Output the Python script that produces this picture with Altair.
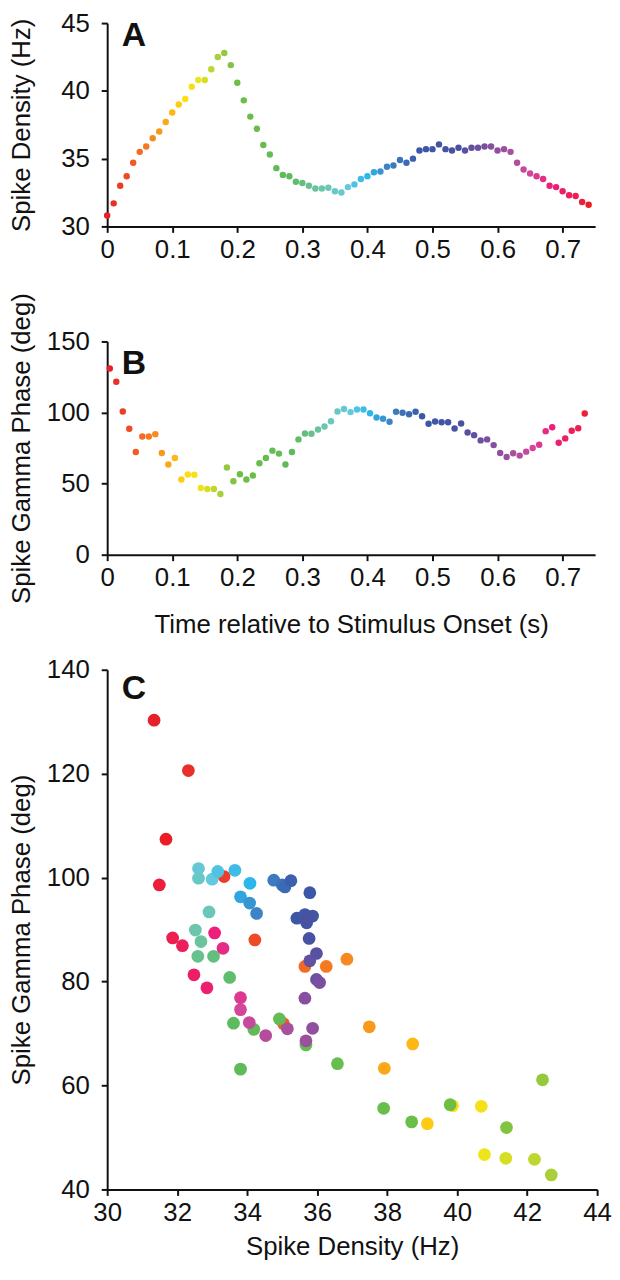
import altair as alt
import pandas as pd

# ---------------- data ----------------
time_a = [0.00, 0.01, 0.02, 0.03, 0.04, 0.05, 0.06, 0.07, 0.08, 0.09,
          0.10, 0.11, 0.12, 0.13, 0.14, 0.15, 0.16, 0.17, 0.18, 0.19,
          0.20, 0.21, 0.22, 0.23, 0.24, 0.25, 0.26, 0.27, 0.28, 0.29,
          0.30, 0.31, 0.32, 0.33, 0.34, 0.35, 0.36, 0.37, 0.38, 0.39,
          0.40, 0.41, 0.42, 0.43, 0.44, 0.45, 0.46, 0.47, 0.48, 0.49,
          0.50, 0.51, 0.52, 0.53, 0.54, 0.55, 0.56, 0.57, 0.58, 0.59,
          0.60, 0.61, 0.62, 0.63, 0.64, 0.65, 0.66, 0.67, 0.68, 0.69,
          0.70, 0.71, 0.72, 0.73, 0.74]

density_a = [30.8, 31.7, 33.0, 33.7, 34.7, 35.5, 35.9, 36.5, 37.0, 37.7,
             38.4, 39.0, 39.4, 40.3, 40.8, 40.8, 41.6, 42.5, 42.8, 41.9,
             40.6, 39.3, 38.1, 37.2, 36.0, 35.3, 34.3, 33.8, 33.7, 33.3,
             33.2, 33.0, 32.8, 32.8, 32.85, 32.6, 32.5, 32.9, 33.1, 33.5,
             33.7, 34.0, 34.05, 34.4, 34.5, 34.9, 34.7, 35.0, 35.6, 35.7,
             35.7, 36.05, 35.7, 35.6, 35.8, 35.6, 35.8, 35.8, 35.9, 35.9,
             35.6, 35.7, 35.5, 34.7, 34.2, 33.9, 33.7, 33.5, 33.0, 32.9,
             32.6, 32.3, 32.25, 31.8, 31.6]

time_b = [0.004, 0.014, 0.024, 0.034, 0.044, 0.054, 0.064, 0.074, 0.084, 0.094,
          0.104, 0.114, 0.124, 0.134, 0.144, 0.154, 0.164, 0.174, 0.184, 0.194,
          0.204, 0.214, 0.224, 0.234, 0.244, 0.254, 0.264, 0.274, 0.284, 0.294,
          0.304, 0.314, 0.324, 0.334, 0.344, 0.354, 0.364, 0.374, 0.384, 0.394,
          0.404, 0.414, 0.424, 0.434, 0.444, 0.454, 0.464, 0.474, 0.484, 0.494,
          0.504, 0.514, 0.524, 0.534, 0.544, 0.554, 0.564, 0.574, 0.584, 0.594,
          0.604, 0.614, 0.624, 0.634, 0.644, 0.654, 0.664, 0.674, 0.684, 0.694,
          0.704, 0.714, 0.724, 0.734]

phase_b = [131.0, 121.7, 100.7, 88.6, 72.2, 83.2, 83.2, 84.8, 71.5, 63.4,
           68.0, 52.9, 56.4, 56.2, 46.9, 46.2, 46.2, 42.7, 61.3, 51.7,
           56.6, 52.9, 55.7, 64.3, 68.0, 73.2, 71.1, 63.4, 72.2, 81.1,
           85.3, 85.1, 88.1, 90.2, 93.9, 100.7, 102.5, 100.3, 102.1, 102.1,
           99.5, 96.5, 95.6, 93.5, 100.5, 99.8, 98.8, 100.5, 97.4, 92.1,
           93.7, 93.2, 93.2, 88.8, 92.3, 86.0, 84.1, 80.4, 81.1, 77.1,
           71.5, 68.8, 71.3, 69.7, 72.5, 75.0, 77.4, 86.9, 89.7, 78.8,
           81.8, 87.2, 89.0, 99.3]

time_c = time_a

density_c = [31.34, 32.32, 33.34, 34.22, 35.04, 35.65, 36.26, 36.85, 37.49, 37.92,
             38.73, 39.15, 39.87, 40.69, 40.78, 41.39, 42.21, 42.69, 42.44, 41.41,
             39.80, 38.70, 37.90, 36.58, 35.68, 34.92, 34.19, 33.81, 33.61, 33.50,
             33.04, 32.59, 32.68, 32.52, 32.91, 32.61, 32.61, 33.00, 33.16, 33.65,
             34.08, 33.81, 34.07, 34.27, 34.76, 35.00, 35.08, 35.25, 35.79, 35.42,
             35.65, 35.87, 35.70, 35.77, 35.72, 35.98, 35.79, 35.98, 36.07, 35.65,
             35.87, 35.68, 35.15, 34.53, 34.06, 33.81, 33.81, 33.31, 33.07, 32.85,
             32.48, 32.15, 31.87, 31.49, 31.68]

phase_c = [130.3, 120.6, 100.2, 88.0, 71.9, 82.9, 82.9, 84.3, 71.3, 63.3,
           68.0, 52.65, 56.1, 56.0, 46.7, 46.0, 45.8, 42.8, 61.1, 51.9,
           56.3, 53.0, 55.6, 64.2, 67.8, 72.8, 70.8, 63.15, 72.0, 80.8,
           84.85, 84.85, 87.7, 89.9, 93.4, 99.9, 101.75, 99.7, 101.2, 101.4,
           98.9, 96.3, 95.1, 93.1, 99.5, 98.6, 98.2, 99.4, 97.1, 92.2,
           92.9, 92.6, 91.3, 88.3, 92.0, 85.4, 84.0, 80.4, 79.8, 76.8,
           71.0, 68.6, 70.9, 69.6, 72.1, 74.6, 76.9, 86.4, 89.35, 78.8,
           81.3, 86.9, 88.4, 98.6, 107.4]

time_ticks = [0, 0.1, 0.2, 0.3, 0.4, 0.5, 0.6, 0.7]
density_ticks_a = [30, 35, 40, 45]
phase_ticks_b = [0, 50, 100, 150]
density_ticks_c = [30, 32, 34, 36, 38, 40, 42, 44]
phase_ticks_c = [40, 60, 80, 100, 120, 140]

# colour by time: red -> orange -> yellow -> green -> cyan -> blue -> purple -> magenta -> red
color_stops = [0.00, 0.03, 0.07, 0.10, 0.12, 0.14, 0.17, 0.20, 0.28, 0.33,
               0.37, 0.40, 0.43, 0.48, 0.54, 0.58, 0.62, 0.65, 0.68, 0.72, 0.74]
color_values = ["#e5222a", "#ee4a27", "#f6891f", "#fdb813", "#ffdd15", "#ece51a",
                "#a9cf39", "#6dbe45", "#5dbb5d", "#6cc6ad", "#62c9de", "#2bb6ec",
                "#3d84c5", "#3b58a8", "#4951a1", "#7b4f9f", "#a6509e", "#d4469b",
                "#ec1f7c", "#ec1f50", "#ec1c26"]

FONT = "Liberation Sans"
INK = "#111111"


def color_enc():
    return alt.Color("t:Q", scale=alt.Scale(domain=color_stops, range=color_values,
                                            interpolate="rgb"), legend=None)


def letter(txt, x, y):
    return alt.Chart(pd.DataFrame({"l": [txt]})).mark_text(
        font=FONT, fontSize=34, fontWeight="bold", color=INK,
        align="center", baseline="middle").encode(
        text="l:N", x=alt.value(x), y=alt.value(y))


# ---------------- panel A ----------------
df_a = pd.DataFrame({"t": time_a, "v": density_a})
pts_a = alt.Chart(df_a).mark_circle(size=42, opacity=1).encode(
    x=alt.X("t:Q", scale=alt.Scale(domain=[0, 0.75], nice=False, zero=False),
            axis=alt.Axis(values=time_ticks, format="~g", title=None, labelFlush=False)),
    y=alt.Y("v:Q", scale=alt.Scale(domain=[30, 45], nice=False, zero=False),
            axis=alt.Axis(values=density_ticks_a, title="Spike Density (Hz)",
                          titleX=-86, titleBaseline="middle", labelPadding=12)),
    color=color_enc())
panel_a = alt.layer(pts_a, letter("A", 27, 13)).properties(width=492, height=205)

# ---------------- panel B ----------------
df_b = pd.DataFrame({"tb": time_b, "v": phase_b, "t": time_a[:len(time_b)]})
pts_b = alt.Chart(df_b).mark_circle(size=42, opacity=1).encode(
    x=alt.X("tb:Q", scale=alt.Scale(domain=[0, 0.75], nice=False, zero=False),
            axis=alt.Axis(values=time_ticks, format="~g", labelFlush=False,
                          title="Time relative to Stimulus Onset (s)",
                          titleY=70, titleBaseline="middle")),
    y=alt.Y("v:Q", scale=alt.Scale(domain=[0, 150], nice=False),
            axis=alt.Axis(values=phase_ticks_b, title="Spike Gamma Phase (deg)",
                          titleX=-86, titleBaseline="middle", labelPadding=12)),
    color=color_enc())
panel_b = alt.layer(pts_b, letter("B", 27, 23)).properties(width=492, height=215)

# ---------------- panel C ----------------
df_c = pd.DataFrame({"d": density_c, "v": phase_c, "t": time_c})
pts_c = alt.Chart(df_c).mark_circle(size=165, opacity=1).encode(
    x=alt.X("d:Q", scale=alt.Scale(domain=[30, 44], nice=False, zero=False),
            axis=alt.Axis(values=density_ticks_c, title="Spike Density (Hz)",
                          titleY=58, titleBaseline="middle", labelFlush=False)),
    y=alt.Y("v:Q", scale=alt.Scale(domain=[40, 140], nice=False, zero=False),
            axis=alt.Axis(values=phase_ticks_c, title="Spike Gamma Phase (deg)",
                          titleX=-86, titleBaseline="middle", labelPadding=12)),
    color=color_enc())
panel_c = alt.layer(pts_c, letter("C", 27, 20)).properties(width=494, height=524)

chart = alt.vconcat(panel_a, panel_b, panel_c, spacing=116, bounds="flush").properties(
    padding={"top": -3, "left": 0, "right": 0, "bottom": 4}
).configure_view(stroke=None).configure_axis(
    domainColor=INK, domainWidth=2, tickColor=INK, tickWidth=2, tickSize=6,
    labelFont=FONT, titleFont=FONT, labelFontSize=26, titleFontSize=26,
    labelColor=INK, titleColor=INK, titleFontWeight="normal", grid=False,
    labelPadding=4
)

chart.save("out.html", embed_options={"renderer": "svg", "actions": False})
